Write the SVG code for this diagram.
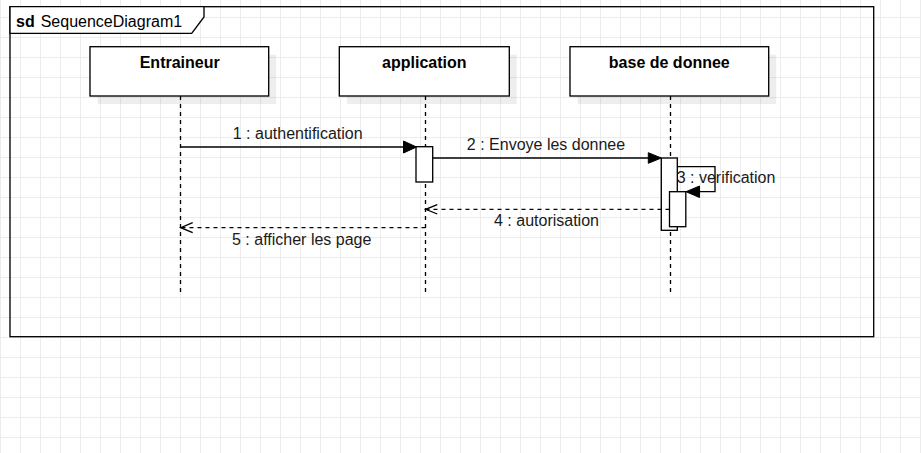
<svg xmlns="http://www.w3.org/2000/svg" width="921" height="453" viewBox="0 0 921 453">
<style>
.ln{stroke:#000;stroke-width:1.33;fill:none}
.box{fill:#fff;stroke:#000;stroke-width:1.33}
.sh{fill:#000;fill-opacity:0.065}
.dash{stroke:#000;stroke-width:1.33;fill:none;stroke-dasharray:4 4}
.title{font-family:"Liberation Sans",Arial,sans-serif;font-size:16px;font-weight:bold;fill:#000;text-anchor:middle}
.lbl{font-family:"Liberation Sans",Arial,sans-serif;font-size:16px;fill:#1a1a1a;text-anchor:middle}
.arr{fill:#000;stroke:#000;stroke-width:1}
</style>
<defs>
<pattern id="grid" width="20" height="20" patternUnits="userSpaceOnUse" x="0" y="17">
<path d="M0.5 0V20M0 0.5H20" stroke="#ececec" stroke-width="1" fill="none"/>
</pattern>
</defs>
<rect x="0" y="0" width="921" height="453" fill="#fff"/>
<rect x="0" y="0" width="921" height="453" fill="url(#grid)"/>

<g id="frame">
<rect x="10" y="6.7" width="863.7" height="330" class="ln"/>
<path d="M10 6.7H204V17L191.7 33.3H10Z" class="box"/>
<text x="16" y="26.5" font-family="'Liberation Sans',Arial,sans-serif" font-size="16" font-weight="bold" fill="#000">sd</text>
<text x="40.7" y="26.5" font-family="'Liberation Sans',Arial,sans-serif" font-size="16" fill="#000">SequenceDiagram1</text>
</g>

<g id="node-entraineur">
<rect x="97.5" y="54.7" width="178.7" height="49.3" class="sh"/>
<rect x="90" y="46.7" width="178.7" height="49.3" class="box"/>
<text x="179.7" y="68" class="title">Entraineur</text>
<line x1="180.5" y1="96" x2="180.5" y2="296" class="dash"/>
</g>

<g id="node-application">
<rect x="346.8" y="54.7" width="170" height="49.3" class="sh"/>
<rect x="339.3" y="46.7" width="170" height="49.3" class="box"/>
<text x="424.3" y="68" class="title">application</text>
<line x1="425.5" y1="96" x2="425.5" y2="296" class="dash"/>
<rect x="416" y="146.7" width="16.7" height="35.3" class="box"/>
</g>

<g id="node-base">
<rect x="577.5" y="54.7" width="198.7" height="49.3" class="sh"/>
<rect x="570" y="46.7" width="198.7" height="49.3" class="box"/>
<text x="669.3" y="68" class="title">base de donnee</text>
<line x1="670.5" y1="96" x2="670.5" y2="296" class="dash"/>
<rect x="661.3" y="158" width="16" height="72.3" class="box"/>
<rect x="669.5" y="191.7" width="16.3" height="35" class="box"/>
</g>

<g id="connectors">
<g id="msg1">
<line x1="180.5" y1="147" x2="404" y2="147" class="ln"/>
<polygon points="416.5,147 403.5,141 403.5,153" class="arr"/>
<text x="297.7" y="139" class="lbl">1 : authentification</text>
</g>
<g id="msg2">
<line x1="432.7" y1="158" x2="649" y2="158" class="ln"/>
<polygon points="661.3,158 648.3,152.7 648.3,163.3" class="arr"/>
<text x="546" y="150" class="lbl">2 : Envoye les donnee</text>
</g>
<g id="msg3">
<path d="M677.3 166.7H715V191.7H699" class="ln"/>
<polygon points="686,191.7 699.5,186 699.5,197.5" class="arr"/>
<text x="676.7" y="183.3" font-family="'Liberation Sans',Arial,sans-serif" font-size="16" fill="#1a1a1a">3 : verification</text>
</g>
<g id="msg4">
<line x1="669.5" y1="209.3" x2="426" y2="209.3" class="dash"/>
<polyline points="437.3,204.7 425.7,209.3 437.3,214" class="ln"/>
<text x="546.5" y="226" class="lbl">4 : autorisation</text>
</g>
<g id="msg5">
<line x1="425.5" y1="227.7" x2="181" y2="227.7" class="dash"/>
<polyline points="192.7,222.7 180.7,227.7 192.7,232.7" class="ln"/>
<text x="301.7" y="245" class="lbl">5 : afficher les page</text>
</g>
</g>
</svg>
